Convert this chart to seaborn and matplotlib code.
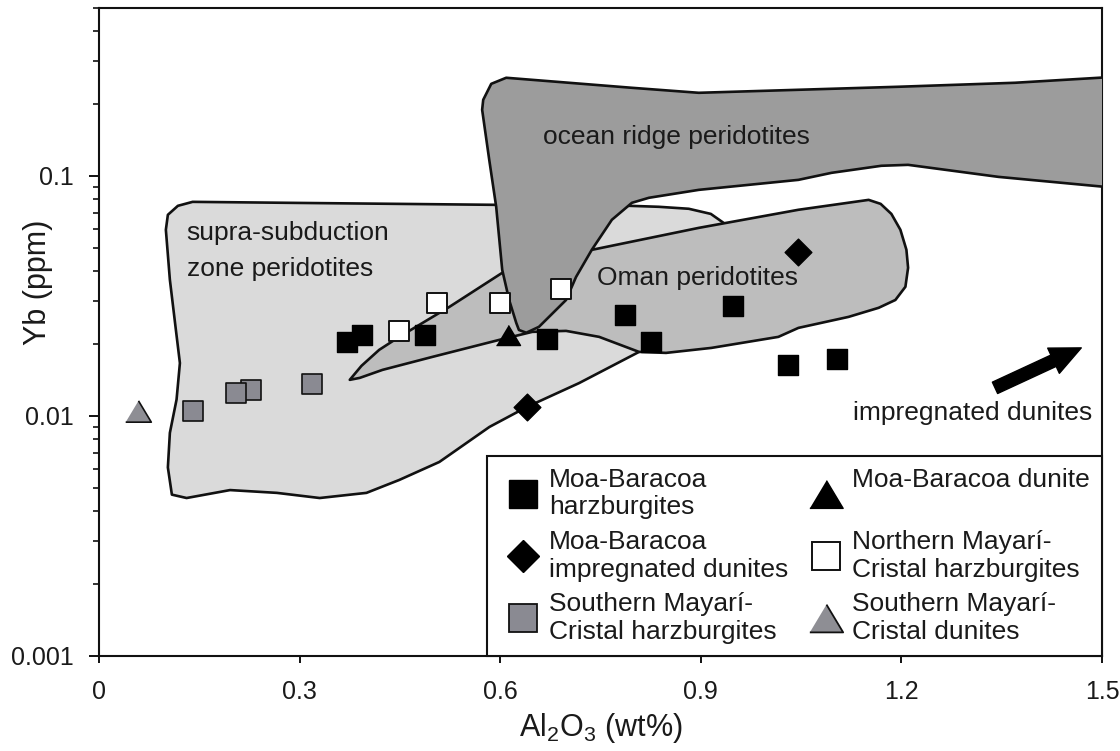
import numpy as np
import matplotlib
matplotlib.use("Agg")
import matplotlib.pyplot as plt
import seaborn as sns
from matplotlib.lines import Line2D
from matplotlib.ticker import LogLocator, NullFormatter, NullLocator

# ---------------- data ----------------
# sample points: Al2O3 (wt%) vs Yb (ppm)
mb_harz_x = [0.371, 0.394, 0.487, 0.670, 0.787, 0.826, 0.948, 1.030, 1.104]
mb_harz_y = [0.0203, 0.0218, 0.0217, 0.0209, 0.0263, 0.0203, 0.0287, 0.0163, 0.0173]
mb_imp_x = [0.640, 1.045]
mb_imp_y = [0.0109, 0.0481]
mb_dun_x = [0.611]
mb_dun_y = [0.0218]
nmc_harz_x = [0.448, 0.505, 0.5995, 0.691]
nmc_harz_y = [0.0225, 0.0296, 0.0296, 0.0337]
smc_harz_x = [0.141, 0.227, 0.2055, 0.319]
smc_harz_y = [0.0105, 0.0128, 0.0125, 0.0136]
smc_dun_x = [0.059]
smc_dun_y = [0.0105]

# compositional fields (outline vertices)
ssz_x = [0.140, 0.118, 0.103, 0.100, 0.106, 0.115, 0.121, 0.116, 0.106, 0.103, 0.109,
         0.131, 0.196, 0.266, 0.330, 0.400, 0.449, 0.509, 0.584, 0.640, 0.718, 0.808,
         0.897, 0.934, 0.934, 0.915, 0.882, 0.837, 0.793, 0.594, 0.449, 0.300]
ssz_y = [0.0779, 0.0750, 0.0688, 0.0596, 0.0369, 0.0228, 0.0166, 0.0117, 0.0085, 0.0061, 0.0047,
         0.00455, 0.00491, 0.00478, 0.00455, 0.00478, 0.00541, 0.00643, 0.0090, 0.0109, 0.0137, 0.0185,
         0.0304, 0.0541, 0.0637, 0.0694, 0.0729, 0.0743, 0.0750, 0.0757, 0.0764, 0.0771]

oman_x = [0.375, 0.3925, 0.419, 0.449, 0.524, 0.603, 0.670, 0.737, 0.897, 1.046, 1.151,
          1.169, 1.185, 1.1985, 1.2075, 1.210, 1.206, 1.191, 1.166, 1.121, 1.046, 1.016,
          0.916, 0.848, 0.8075, 0.748, 0.6985, 0.648, 0.5985, 0.4985, 0.424, 0.390]
oman_y = [0.01413, 0.01616, 0.01884, 0.02134, 0.02845, 0.03944, 0.04467, 0.04916, 0.0607, 0.0722, 0.0794,
          0.0764, 0.0694, 0.0596, 0.0492, 0.0414, 0.0345, 0.0304, 0.0282, 0.02585, 0.02326, 0.02134,
          0.01920, 0.01830, 0.01848, 0.02134, 0.02260, 0.02239, 0.02073, 0.01761, 0.01555, 0.01440]

or_x = [0.5746, 0.5866, 0.609, 0.797, 0.897, 1.046, 1.1955, 1.370, 1.52, 1.52, 1.345, 1.210,
        1.170, 1.0955, 1.046, 0.897, 0.8224, 0.797, 0.767, 0.737, 0.7134, 0.6985, 0.658, 0.639,
        0.628, 0.624, 0.6134, 0.603, 0.594, 0.5836, 0.573]
or_y = [0.2073, 0.2416, 0.2561, 0.2326, 0.2217, 0.2282, 0.2349, 0.2441, 0.2585, 0.0891, 0.0990, 0.1111,
        0.1101, 0.1029, 0.0962, 0.0874, 0.0810, 0.0772, 0.0656, 0.0492, 0.0379, 0.0304, 0.0235, 0.0222,
        0.0228, 0.0244, 0.0304, 0.0406, 0.0743, 0.1166, 0.1884]

x_ticks = [0, 0.3, 0.6, 0.9, 1.2, 1.5]
x_tick_labels = ["0", "0.3", "0.6", "0.9", "1.2", "1.5"]
y_ticks = [0.001, 0.01, 0.1]
y_tick_labels = ["0.001", "0.01", "0.1"]

legend_labels = ["Moa-Baracoa\nharzburgites",
                 "Moa-Baracoa\nimpregnated dunites",
                 "Southern Mayarí-\nCristal harzburgites",
                 "Moa-Baracoa dunite\n",
                 "Northern Mayarí-\nCristal harzburgites",
                 "Southern Mayarí-\nCristal dunites"]

# ---------------- style ----------------
sns.set_theme(style="ticks")
plt.rcParams["font.family"] = ["Liberation Sans", "DejaVu Sans"]
plt.rcParams["mathtext.fontset"] = "custom"
plt.rcParams["mathtext.rm"] = "Liberation Sans"
plt.rcParams["mathtext.it"] = "Liberation Sans:italic"
plt.rcParams["mathtext.bf"] = "Liberation Sans:bold"
plt.rcParams["mathtext.default"] = "regular"

TXT = "#1a1a1a"
EDGE = "#111111"
C_SSZ = "#dadada"
C_OMAN = "#bdbdbd"
C_OR = "#9c9c9c"
C_GSQ = "#8a8a92"
C_GTRI = "#8e8e94"

tri = [(-1.2, -1.0), (1.2, -1.0), (0.0, 1.0)]

fig = plt.figure(figsize=(11.2, 7.51), dpi=100)
ax = fig.add_axes([0.08839, 0.12650, 0.89554, 0.86285])
ax.set_yscale("log")
ax.set_xlim(0, 1.5)
ax.set_ylim(0.001, 0.5)

# fields
ax.fill(ssz_x, ssz_y, facecolor=C_SSZ, edgecolor=EDGE, lw=1.9, zorder=1, joinstyle="round")
ax.fill(oman_x, oman_y, facecolor=C_OMAN, edgecolor=EDGE, lw=1.9, zorder=2, joinstyle="round")
ax.fill(or_x, or_y, facecolor=C_OR, edgecolor=EDGE, lw=1.9, zorder=3, joinstyle="round")

# field labels
ax.text(0.131, 0.0487, "supra-subduction\nzone peridotites", ha="left", va="center",
        fontsize=19, color=TXT, linespacing=1.6, zorder=4)
ax.text(0.864, 0.1454, "ocean ridge peridotites", ha="center", va="center",
        fontsize=19, color=TXT, zorder=4)
ax.text(0.745, 0.0376, "Oman peridotites", ha="left", va="center",
        fontsize=19, color=TXT, zorder=4)
ax.text(1.306, 0.01029, "impregnated dunites", ha="center", va="center",
        fontsize=19, color=TXT, zorder=4)
ax.annotate("", xy=(1.469, 0.0192), xytext=(1.340, 0.01309),
            arrowprops=dict(arrowstyle="simple,head_length=1.1,head_width=1.0,tail_width=0.45",
                            fc="black", ec="black", mutation_scale=20, shrinkA=0, shrinkB=0),
            zorder=4)

# points
sns.scatterplot(x=smc_dun_x, y=smc_dun_y, marker=tri, s=340, color=C_GTRI, edgecolor=EDGE,
                linewidth=1.2, ax=ax, zorder=6, legend=False)
sns.scatterplot(x=smc_harz_x, y=smc_harz_y, marker="s", s=225, color=C_GSQ, edgecolor=EDGE,
                linewidth=1.2, ax=ax, zorder=6, legend=False)
sns.scatterplot(x=mb_harz_x, y=mb_harz_y, marker="s", s=225, color="black", edgecolor="black",
                linewidth=1.0, ax=ax, zorder=6, legend=False)
sns.scatterplot(x=nmc_harz_x, y=nmc_harz_y, marker="s", s=225, color="white", edgecolor=EDGE,
                linewidth=1.4, ax=ax, zorder=6, legend=False)
sns.scatterplot(x=mb_dun_x, y=mb_dun_y, marker=tri, s=300, color="black", edgecolor="black",
                linewidth=1.0, ax=ax, zorder=6, legend=False)
sns.scatterplot(x=mb_imp_x, y=mb_imp_y, marker="D", s=185, color="black", edgecolor="black",
                linewidth=1.0, ax=ax, zorder=6, legend=False)

# axes, ticks
for sp in ax.spines.values():
    sp.set_visible(True)
    sp.set_linewidth(1.5)
    sp.set_color(EDGE)
ax.set_xticks(x_ticks)
ax.set_xticklabels(x_tick_labels)
ax.set_yticks(y_ticks)
ax.set_yticklabels(y_tick_labels)
ax.xaxis.set_minor_locator(NullLocator())
ax.yaxis.set_minor_locator(LogLocator(base=10, subs=np.arange(2, 10), numticks=20))
ax.yaxis.set_minor_formatter(NullFormatter())
ax.tick_params(axis="y", which="major", direction="out", length=7.5, width=1.4, pad=11,
               labelsize=18, colors=EDGE, labelcolor=TXT, left=True, right=False)
ax.tick_params(axis="y", which="minor", direction="out", length=4.5, width=1.2, colors=EDGE,
               left=True, right=False)
ax.tick_params(axis="x", which="major", direction="out", length=5, width=1.4, pad=12,
               labelsize=18, colors=EDGE, labelcolor=TXT, bottom=True, top=False)

ax.set_ylabel("Yb (ppm)", fontsize=22, color=TXT)
ax.yaxis.set_label_coords(-0.046, 0.576)
ax.set_xlabel("Al$_2$O$_3$ (wt%)", fontsize=22, color=TXT)
ax.xaxis.set_label_coords(0.5, -0.085)

# legend
handles = [
    Line2D([], [], ls="none", marker="s", ms=20, mfc="black", mec="black", mew=1.0),
    Line2D([], [], ls="none", marker="D", ms=16.5, mfc="black", mec="black", mew=1.0),
    Line2D([], [], ls="none", marker="s", ms=20, mfc=C_GSQ, mec=EDGE, mew=1.3),
    Line2D([], [], ls="none", marker=tri, ms=24, mfc="black", mec="black", mew=1.0),
    Line2D([], [], ls="none", marker="s", ms=20, mfc="white", mec=EDGE, mew=1.4),
    Line2D([], [], ls="none", marker=tri, ms=24, mfc=C_GTRI, mec=EDGE, mew=1.3),
]
leg = ax.legend(handles, legend_labels, ncol=2, loc="lower right", borderaxespad=0,
                frameon=True, fancybox=False, edgecolor=EDGE, framealpha=1, fontsize=19,
                handlelength=1.8, handletextpad=0.1, columnspacing=0.53, labelspacing=0.4,
                borderpad=0.45, numpoints=1)
leg.get_frame().set_linewidth(1.5)
leg.set_zorder(10)
for t in leg.get_texts():
    t.set_color(TXT)
    t.set_linespacing(1.2)

fig.savefig("out.png", dpi=100)
